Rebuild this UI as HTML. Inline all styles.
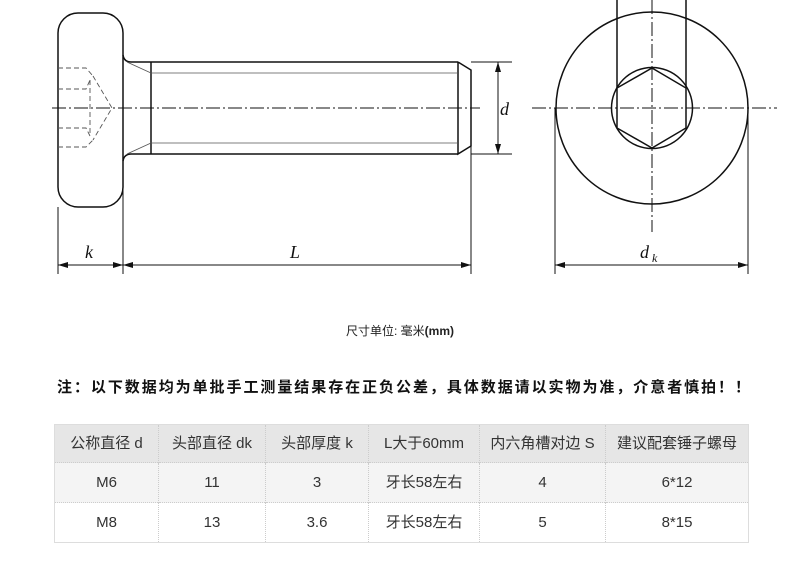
<!DOCTYPE html>
<html><head><meta charset="utf-8"><style>
body{margin:0;width:800px;height:572px;background:#fff;position:relative;overflow:hidden;font-family:"Liberation Sans","Noto Sans CJK SC",sans-serif;}
svg{position:absolute;left:0;top:0}
.cap{position:absolute;left:0;width:800px;text-align:center;top:322px;font-size:12px;color:#222}
.note{position:absolute;left:57px;top:376px;font-size:15px;letter-spacing:1.95px;font-weight:bold;color:#111;white-space:nowrap}
table{position:absolute;left:54px;top:424px;width:695px;border-collapse:collapse;font-size:15px;color:#333;border:1px solid #ddd}
td{text-align:center;border-left:1px dotted #ccc;border-top:1px dotted #ccc;padding:0;white-space:nowrap;line-height:18px}
tr.h td{background:#e6e6e6;height:37px}
tr.r1 td{background:#f4f4f4;height:39px}
tr.r2 td{background:#fff;height:39px}
</style></head><body>
<svg width="800" height="300" viewBox="0 0 800 300" fill="none" stroke="#111" stroke-width="1.5">
<rect x="58" y="13" width="65" height="194" rx="20"/>
<path d="M123 55 Q124 62 131 62 L458 62 M123 161 Q124 154 131 154 L458 154"/>
<path d="M151 62 V154 M458 62 V154 L471 146 V70 L458 62" />
<path d="M151 73 H458 M151 143 H458 M127 62 L151 73 M127 154 L151 143" stroke-width="0.8" stroke="#555"/>
<path d="M58 68 H86 L93 76 M58 89 H86 L90 80 M58 128 H86 L90 136 M58 147 H86 L93 140 M93 76 L112 108 L93 140 M90 80 V136" stroke-dasharray="5 3" stroke-width="0.9" stroke="#555"/>
<path d="M52 108 H480 M532 108 H777 M652 0 V232" stroke-dasharray="14 3 2 3" stroke-width="1"/>
<g stroke-width="1">
<path d="M58 207 V274 M123 161 V274 M471 146 V274 M555 108 V274 M748 108 V274"/>
<path d="M58 265 H123 M123 265 H471 M555 265 H748"/>
<path d="M471 62 H512 M471 154 H512 M498 62 V154"/>
</g>
<g fill="#111" stroke="none">
<path d="M58 265 l10 -3 v6z M123 265 l-10 -3 v6z M123 265 l10 -3 v6z M471 265 l-10 -3 v6z M555 265 l10 -3 v6z M748 265 l-10 -3 v6z M498 62 l-3 10 h6z M498 154 l-3 -10 h6z"/>
</g>
<circle cx="652" cy="108" r="96"/>
<circle cx="652" cy="108" r="40.5"/>
<path d="M652 68 L686 88 L686 128 L652 148 L617 128 L617 88 Z"/>
<path d="M617 0 V88 M686 0 V88"/>
<g fill="#111" stroke="none" font-family="Liberation Serif,serif" font-style="italic" font-size="18">
<text x="85" y="258">k</text>
<text x="290" y="258">L</text>
<text x="500" y="115">d</text>
<text x="640" y="258">d</text><text x="652" y="262" font-size="12">k</text>
</g>
</svg>
<div class="cap">尺寸单位: 毫米<b>(mm)</b></div>
<div class="note">注：以下数据均为单批手工测量结果存在正负公差，具体数据请以实物为准，介意者慎拍！！</div>
<table>
<tr class="h"><td style="width:103px">公称直径 d</td><td style="width:106px">头部直径 dk</td><td style="width:102px">头部厚度 k</td><td style="width:110px">L大于60mm</td><td style="width:125px">内六角槽对边 S</td><td>建议配套锤子螺母</td></tr>
<tr class="r1"><td>M6</td><td>11</td><td>3</td><td>牙长58左右</td><td>4</td><td>6*12</td></tr>
<tr class="r2"><td>M8</td><td>13</td><td>3.6</td><td>牙长58左右</td><td>5</td><td>8*15</td></tr>
</table>
</body></html>
